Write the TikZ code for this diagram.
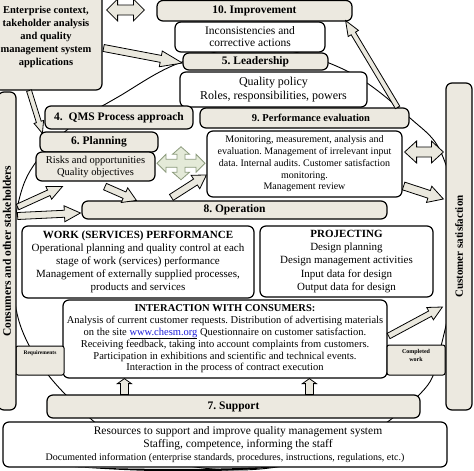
\documentclass[tikz,border=0pt]{standalone}
\usepackage{fontspec}
\setmainfont{Liberation Serif}
\usetikzlibrary{calc}
\frenchspacing
\definecolor{bg}{RGB}{236,233,224}
\definecolor{arr}{RGB}{234,232,222}
\definecolor{crossf}{RGB}{228,234,216}
\definecolor{crossd}{RGB}{140,155,125}
\definecolor{lnk}{RGB}{30,30,220}
\tikzset{
  box/.style={draw=black, line width=1.2pt, rounded corners=6pt, fill=white, inner sep=0pt, align=center},
  bbox/.style={box, fill=bg},
  ttl/.style={font=\bfseries\fontsize{11.5}{13}\selectfont},
  blockarr/.style={fill=arr, draw=black, line width=0.8pt, line join=miter},
}
\newcommand{\mybox}[7]{\node[#1, minimum width={(#5)-(#3)}, minimum height={(#6)-(#4)}] (#2) at ({((#3)+(#5))/2},{((#4)+(#6))/2}) {#7};}
\newcommand{\blockarrow}[6][]{%
  \coordinate (ba-s) at (#2);
  \coordinate (ba-e) at (#3);
  \coordinate (ba-m) at ($(ba-e)!#6!(ba-s)$);
  \filldraw[blockarr,#1] ($(ba-s)!#4!90:(ba-e)$) -- ($(ba-m)!#4!90:(ba-e)$) -- ($(ba-m)!#5!90:(ba-e)$) -- (ba-e) -- ($(ba-m)!#5!-90:(ba-e)$) -- ($(ba-m)!#4!-90:(ba-e)$) -- ($(ba-s)!#4!-90:(ba-e)$) -- cycle;}
\newcommand{\dblarrow}[6][]{%
  \coordinate (da-a) at (#2);
  \coordinate (da-b) at (#3);
  \coordinate (da-ma) at ($(da-a)!#6!(da-b)$);
  \coordinate (da-mb) at ($(da-b)!#6!(da-a)$);
  \filldraw[blockarr,#1] (da-a) -- ($(da-ma)!#5!90:(da-b)$) -- ($(da-ma)!#4!90:(da-b)$) -- ($(da-mb)!#4!90:(da-b)$) -- ($(da-mb)!#5!90:(da-b)$) -- (da-b) -- ($(da-mb)!#5!-90:(da-b)$) -- ($(da-mb)!#4!-90:(da-b)$) -- ($(da-ma)!#4!-90:(da-b)$) -- ($(da-ma)!#5!-90:(da-b)$) -- cycle;}
\begin{document}
\begin{tikzpicture}[x=1pt,y=-1pt]
\useasboundingbox (0,0) rectangle (474,471);
% big circle
\draw[line width=0.9pt] plot[smooth cycle, tension=0.6] coordinates {(182,62) (262,47) (345,70) (410,118) (443,157) (459,240) (440,350) (418,396) (340,450) (240,470) (140,452) (64,393) (22,330) (12,260) (19,200) (36,162) (73,125) (118,97)};
\fill (75,467) .. controls (140,472) and (220,474) .. (285,466) .. controls (220,470) and (140,469.5) .. (75,467) -- cycle;
% boxes
\mybox{bbox,font=\bfseries\fontsize{10.5}{13}\selectfont}{ent}{-10}{-17}{102}{90}{Enterprise context,\\takeholder analysis\\and quality\\management system\\applications}
\mybox{bbox,ttl}{imp}{157}{0.5}{352}{21}{10. Improvement}
\mybox{box,font=\fontsize{11.5}{12}\selectfont}{inc}{175}{22}{325}{52}{Inconsistencies and\\corrective actions}
\mybox{bbox,ttl}{lead}{183}{53}{328}{70}{5. Leadership}
\mybox{box,font=\fontsize{12}{14}\selectfont}{qp}{180}{72}{367}{107}{Quality policy\\Roles, responsibilities, powers}
\mybox{bbox,ttl}{qms}{45}{106}{193}{129}{4.~ QMS Process approach}
\mybox{bbox,font=\bfseries\fontsize{10.5}{13}\selectfont}{perf}{200}{108}{409}{128}{\hspace*{13pt}9. Performance evaluation}
\mybox{bbox,ttl}{plan}{40}{132}{158}{152}{6. Planning}
\mybox{bbox,font=\fontsize{10.5}{12}\selectfont}{risk}{36}{152}{155}{181}{Risks and opportunities\\Quality objectives}
\mybox{box,font=\fontsize{10}{11.7}\selectfont}{mon}{207}{131}{402}{197}{Monitoring, measurement, analysis and\\evaluation. Management of irrelevant input\\data. Internal audits. Customer satisfaction\\monitoring.\\Management review}
\mybox{bbox,ttl}{op}{82}{201}{387}{219}{8. Operation}
\mybox{box,font=\fontsize{11}{13}\selectfont}{work}{22}{226}{254}{298}{\textbf{WORK (SERVICES) PERFORMANCE}\\Operational planning and quality control at each\\stage of work (services) performance\\Management of externally supplied processes,\\products and services}
\mybox{box,font=\fontsize{11}{13.3}\selectfont}{proj}{260}{226}{433}{297}{\textbf{PROJECTING}\\Design planning\\Design management activities\\Input data for design\\Output data for design}
\mybox{box,font=\fontsize{10.5}{11.6}\selectfont}{inter}{63}{300}{387}{378}{\textbf{INTERACTION WITH CONSUMERS:}\\Analysis of current customer requests. Distribution of advertising materials\\on the site \underline{\textcolor{lnk}{www.chesm.org}} Questionnaire on customer satisfaction.\\Receiving feedback, taking into account complaints from customers.\\Participation in exhibitions and scientific and technical events.\\Interaction in the process of contract execution}
\mybox{bbox,ttl}{sup}{47}{395}{420}{418}{7. Support}
\mybox{box,font=\fontsize{11.5}{13}\selectfont}{res}{3}{422}{447}{467}{\hspace*{26pt}Resources to support and improve quality management system\\\hspace*{26pt}Staffing, competence, informing the staff\\\fontsize{10}{13}\selectfont Documented information (enterprise standards, procedures, instructions, regulations, etc.)}
\mybox{bbox,rounded corners=2pt,line width=1pt}{req}{16}{346}{64}{375}{}
\node[font=\bfseries\fontsize{5.5}{6}\selectfont] (reqt) at ($(req.north)+(0,8)$) {Requirements};
\mybox{bbox,rounded corners=2pt,line width=1pt}{compl}{387}{345}{445}{375}{}
\node[font=\bfseries\fontsize{6}{8}\selectfont, align=center] (complt) at ($(compl.north)+(0,11)$) {Completed\\work};
\node[bbox, rotate=90, minimum width=318, minimum height=18, ttl] (cons) at (7,251) {Consumers and other stakeholders};
\node[bbox, rotate=90, minimum width=327, minimum height=26, font=\bfseries\fontsize{11}{13}\selectfont] (cust) at (459,246.5) {Customer satisfaction};
% arrows
\coordinate (a1a) at ($(ent.east)+(4,-26.5)$);
\coordinate (a1b) at ($(imp.west)+(-12,-0.75)$);
\dblarrow{a1a}{a1b}{5pt}{11pt}{11pt}
\blockarrow{$(ent.east)+(1,11.5)$}{$(lead.west)+(0,1.5)$}{3.5pt}{8pt}{22pt}
\blockarrow{$(ent.south west)!0.35!(ent.south east)$}{$(plan.north west)+(3,2)$}{2.5pt}{5pt}{12pt}
\blockarrow{$(perf.north east)+(-12,0)$}{$(imp.south east)+(-7,-1)$}{2.5pt}{6pt}{15pt}
\blockarrow{$(cons.south)+(1,-44)$}{$(risk.south west)+(27,5)$}{3pt}{7pt}{15pt}
\blockarrow{$(cons.south)+(1,-35)$}{$(op.west)+(-1,3)$}{3.5pt}{8pt}{16pt}
\blockarrow{$(risk.south)+(9.5,5)$}{$(op.north west)+(55,0)$}{3.5pt}{8pt}{13pt}
\blockarrow{$(op.north west)+(90,-3)$}{$(mon.west)+(0,11)$}{3.5pt}{8pt}{13pt}
\coordinate (a9a) at ($(mon.east)+(2,-12)$);
\coordinate (a9b) at ($(cust.north)+(-2,-94.5)$);
\dblarrow{a9a}{a9b}{5pt}{11pt}{12pt}
\blockarrow{$(mon.east)+(1,22)$}{$(cust.north)+(-2,-47.5)$}{4pt}{8.5pt}{15pt}
\blockarrow{$(inter.east)+(1,-3)$}{$(cust.north)+(-3,60.5)$}{3pt}{7pt}{14pt}
\blockarrow{$(sup.north west)+(78,0)$}{$(inter.south west)+(62,0)$}{4pt}{7pt}{5pt}
\blockarrow{$(sup.north west)+(263,0)$}{$(inter.south west)+(247,0)$}{4pt}{7pt}{5pt}
% four-way arrow
\coordinate (cx) at ($(risk.east)!0.5!(mon.west)+(0,-2)$);
\filldraw[fill=crossf, draw=crossd, line width=0.8pt, shift={(cx)}] (24,0) -- (15,-9) -- (15,-4) -- (4,-4) -- (4,-9) -- (8.5,-9) -- (0,-16.5) -- (-8.5,-9) -- (-4,-9) -- (-4,-4) -- (-15,-4) -- (-15,-9) -- (-24,0) -- (-15,9) -- (-15,4) -- (-4,4) -- (-4,9) -- (-8.5,9) -- (0,16.5) -- (8.5,9) -- (4,9) -- (4,4) -- (15,4) -- (15,9) -- cycle;
\end{tikzpicture}
\end{document}
